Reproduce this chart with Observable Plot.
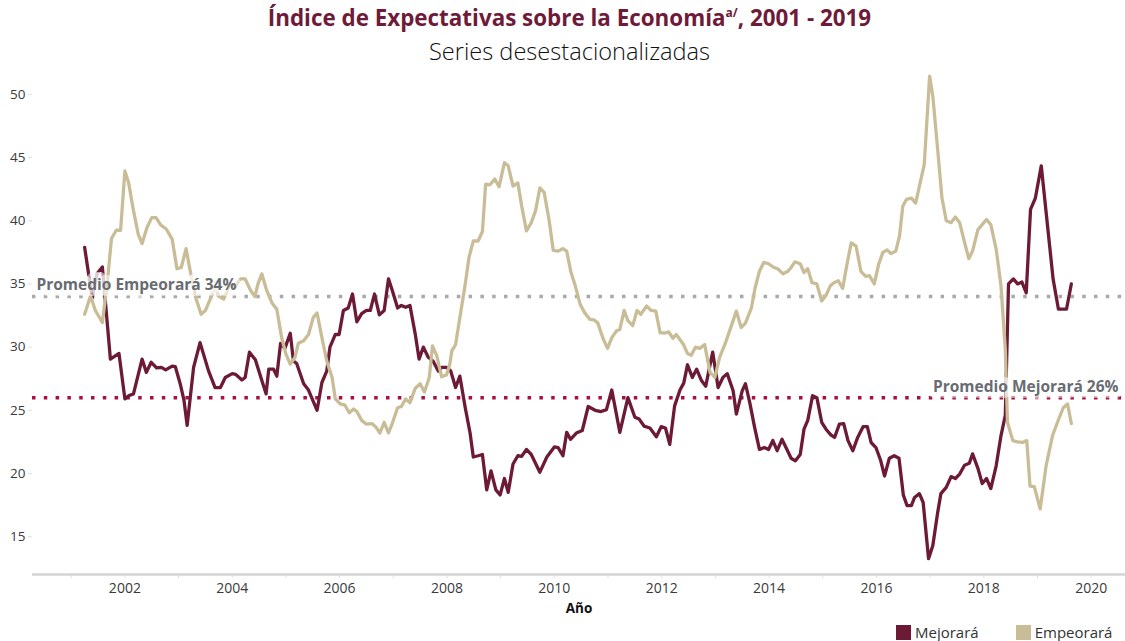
<!DOCTYPE html>
<html>
<head>
<meta charset="utf-8">
<script src="https://cdn.jsdelivr.net/npm/d3@7"></script>
<script src="https://cdn.jsdelivr.net/npm/@observablehq/plot@0.6"></script>
<style>
  body { margin:0; width:1125px; height:641px; overflow:hidden; background:#fff; font-family:"Open Sans", sans-serif; position:relative; }
  #header { position:relative; height:70px; }
  #title { position:absolute; top:4px; left:14px; right:0; text-align:center; font-size:22.4px; font-weight:700; color:#6e1b3a; line-height:28px; }
  #title sup { font-size:12px; vertical-align:9px; line-height:0; }
  #subtitle { position:absolute; top:36px; left:14px; right:0; text-align:center; font-size:23.6px; font-weight:300; color:#111; line-height:30px; }
  #legend { position:absolute; top:622px; left:896px; display:flex; align-items:center; font-size:15px; color:#333; }
  .sw { width:15px; height:15px; display:inline-block; margin-right:4px; }
  .item { display:flex; align-items:center; margin-right:37px; }
  #chart svg { display:block; }
</style>
</head>
<body>
<div id="header">
  <div id="title">Índice de Expectativas sobre la Economía<sup>a/</sup>, 2001 - 2019</div>
  <div id="subtitle">Series desestacionalizadas</div>
</div>
<div id="chart"></div>
<div id="legend"></div>
<script>
// ---- data (decimal year, percent) ----
const mejYear = [2001.25,2001.39,2001.48,2001.58,2001.73,2001.89,2002.00,2002.07,2002.16,2002.32,2002.40,2002.49,2002.59,2002.68,2002.76,2002.88,2002.94,2003.03,2003.10,2003.16,2003.28,2003.40,2003.56,2003.68,2003.78,2003.87,2004.00,2004.06,2004.18,2004.24,2004.32,2004.43,2004.57,2004.63,2004.68,2004.77,2004.83,2004.90,2004.98,2005.08,2005.14,2005.20,2005.33,2005.42,2005.58,2005.67,2005.76,2005.82,2005.92,2005.99,2006.07,2006.16,2006.24,2006.32,2006.41,2006.50,2006.57,2006.65,2006.74,2006.83,2006.91,2006.98,2007.08,2007.15,2007.23,2007.31,2007.41,2007.48,2007.56,2007.65,2007.74,2007.84,2007.90,2007.99,2008.07,2008.16,2008.24,2008.34,2008.43,2008.49,2008.58,2008.66,2008.74,2008.82,2008.91,2008.99,2009.07,2009.14,2009.23,2009.32,2009.39,2009.48,2009.57,2009.73,2009.86,2010.00,2010.07,2010.16,2010.23,2010.30,2010.41,2010.52,2010.63,2010.76,2010.87,2010.97,2011.07,2011.22,2011.37,2011.50,2011.58,2011.67,2011.78,2011.90,2011.99,2012.07,2012.15,2012.24,2012.34,2012.41,2012.48,2012.57,2012.65,2012.74,2012.82,2012.89,2012.95,2013.05,2013.14,2013.22,2013.33,2013.39,2013.50,2013.56,2013.64,2013.73,2013.82,2013.91,2013.99,2014.07,2014.15,2014.24,2014.31,2014.41,2014.49,2014.58,2014.65,2014.72,2014.81,2014.89,2014.98,2015.06,2015.15,2015.22,2015.31,2015.39,2015.47,2015.56,2015.65,2015.75,2015.83,2015.90,2015.99,2016.08,2016.15,2016.24,2016.33,2016.42,2016.50,2016.57,2016.65,2016.71,2016.80,2016.87,2016.97,2017.05,2017.14,2017.20,2017.30,2017.39,2017.47,2017.55,2017.64,2017.73,2017.79,2017.89,2017.97,2018.05,2018.13,2018.23,2018.32,2018.40,2018.46,2018.55,2018.63,2018.71,2018.79,2018.87,2018.96,2019.07,2019.29,2019.39,2019.54,2019.63];
const mejValue = [37.9,33.9,35.8,36.35,29.05,29.5,25.9,26.15,26.3,29.05,28.0,28.8,28.35,28.4,28.2,28.5,28.45,27.1,25.8,23.8,28.4,30.35,28.1,26.8,26.8,27.6,27.9,27.85,27.4,27.6,29.6,29.0,27.1,26.3,28.25,28.25,27.7,30.3,29.9,31.1,28.9,28.7,27.1,26.6,25.0,27.2,28.1,30.0,31.0,31.0,32.9,33.1,34.2,32.0,32.65,32.9,32.9,34.2,32.55,32.9,35.4,34.5,33.1,33.3,33.15,33.3,31.0,29.05,30.0,29.2,28.9,28.1,28.4,28.4,28.1,26.8,27.7,25.2,23.2,21.3,21.4,21.5,18.7,20.2,18.7,18.3,19.6,18.5,20.75,21.4,21.35,21.9,21.5,20.1,21.3,22.1,22.05,21.4,23.25,22.7,23.2,23.4,25.3,25.0,24.9,25.05,26.6,23.25,26.0,24.45,24.3,23.75,23.6,22.9,23.7,23.6,22.3,25.35,26.6,27.15,28.6,27.6,28.25,27.35,26.9,28.4,29.6,26.8,27.6,27.9,26.55,24.7,26.55,27.1,25.6,23.65,21.9,22.05,21.9,22.6,21.8,22.7,22.1,21.2,21.0,21.5,23.5,24.2,26.15,26.0,24.05,23.5,23.05,22.85,23.9,23.95,22.6,21.8,22.85,23.7,23.7,22.45,22.05,21.0,19.8,21.2,21.4,21.2,18.3,17.45,17.45,18.1,18.4,17.7,13.25,14.3,16.9,18.4,18.9,19.75,19.6,19.95,20.65,20.8,21.55,20.4,19.2,19.6,18.8,20.6,23.0,24.6,35.0,35.4,35.0,35.15,34.3,40.9,41.8,44.35,35.4,33.0,33.0,35.0];

const empYear = [2001.25,2001.36,2001.45,2001.58,2001.67,2001.75,2001.84,2001.92,2002.00,2002.07,2002.16,2002.25,2002.32,2002.41,2002.50,2002.58,2002.67,2002.77,2002.88,2002.97,2003.05,2003.14,2003.20,2003.32,2003.42,2003.50,2003.60,2003.68,2003.74,2003.84,2003.95,2004.05,2004.15,2004.24,2004.34,2004.42,2004.48,2004.55,2004.64,2004.74,2004.83,2004.92,2005.00,2005.08,2005.17,2005.23,2005.33,2005.42,2005.51,2005.58,2005.67,2005.76,2005.86,2005.92,2006.01,2006.10,2006.18,2006.26,2006.32,2006.41,2006.50,2006.60,2006.67,2006.75,2006.83,2006.91,2006.98,2007.08,2007.15,2007.23,2007.31,2007.41,2007.50,2007.58,2007.67,2007.73,2007.81,2007.90,2007.99,2008.05,2008.09,2008.16,2008.24,2008.34,2008.41,2008.49,2008.58,2008.66,2008.72,2008.80,2008.89,2008.97,2009.07,2009.14,2009.23,2009.32,2009.39,2009.48,2009.57,2009.65,2009.73,2009.81,2009.90,2009.98,2010.07,2010.16,2010.23,2010.31,2010.39,2010.48,2010.56,2010.66,2010.74,2010.81,2010.91,2010.99,2011.07,2011.16,2011.22,2011.30,2011.37,2011.46,2011.54,2011.61,2011.72,2011.80,2011.89,2011.97,2012.05,2012.13,2012.21,2012.27,2012.40,2012.48,2012.55,2012.63,2012.71,2012.80,2012.90,2012.99,2013.08,2013.18,2013.29,2013.39,2013.48,2013.56,2013.67,2013.74,2013.82,2013.90,2013.99,2014.09,2014.16,2014.26,2014.35,2014.41,2014.48,2014.58,2014.65,2014.72,2014.80,2014.89,2014.98,2015.06,2015.14,2015.21,2015.29,2015.37,2015.45,2015.53,2015.62,2015.71,2015.80,2015.87,2015.96,2016.04,2016.12,2016.20,2016.27,2016.36,2016.43,2016.49,2016.56,2016.65,2016.73,2016.80,2016.89,2016.99,2017.05,2017.14,2017.22,2017.30,2017.39,2017.47,2017.55,2017.64,2017.72,2017.79,2017.89,2017.97,2018.05,2018.13,2018.23,2018.32,2018.40,2018.44,2018.54,2018.63,2018.72,2018.80,2018.86,2018.94,2019.05,2019.16,2019.28,2019.39,2019.48,2019.56,2019.63];
const empValue = [32.6,34.05,32.9,31.95,35.0,38.6,39.25,39.25,43.95,43.0,40.8,38.9,38.2,39.45,40.25,40.25,39.65,39.35,38.55,36.2,36.3,37.8,36.4,33.9,32.6,32.9,33.9,34.75,34.05,33.8,35.0,34.75,35.4,35.4,34.5,34.0,35.0,35.8,34.5,33.5,33.0,30.75,29.45,28.65,29.2,30.3,30.5,31.0,32.35,32.7,30.75,28.9,27.6,25.9,25.5,25.4,24.8,25.1,24.9,24.2,23.9,23.95,23.7,23.2,24.05,23.2,23.95,25.2,25.3,25.9,25.6,26.75,27.1,26.45,27.6,30.1,29.3,27.65,27.8,28.6,29.7,30.2,32.35,35.0,37.1,38.4,38.4,39.15,42.9,42.85,43.3,42.7,44.6,44.35,42.75,43.0,41.2,39.2,39.85,40.8,42.6,42.25,40.1,37.65,37.6,37.8,37.6,35.9,34.85,33.4,32.75,32.2,32.15,31.9,30.65,29.9,30.75,31.3,31.4,32.9,32.1,31.7,32.9,32.6,33.25,32.9,32.85,31.15,31.1,31.2,30.7,31.0,30.25,29.5,29.35,30.0,29.9,30.2,28.0,27.6,29.2,30.25,31.6,32.85,31.55,31.9,33.1,34.7,36.0,36.7,36.6,36.3,36.2,35.8,36.0,36.3,36.75,36.6,35.9,36.2,35.1,35.0,33.65,34.1,34.85,35.1,35.25,34.65,36.55,38.25,38.0,36.0,35.6,35.65,35.0,36.55,37.5,37.7,37.4,37.6,38.8,41.15,41.7,41.8,41.4,42.75,44.45,51.45,49.85,45.65,41.8,40.0,39.85,40.3,39.85,38.3,37.0,37.6,39.3,39.7,40.1,39.7,37.75,34.85,29.85,24.05,22.6,22.5,22.45,22.6,19.0,18.95,17.2,20.6,23.0,24.25,25.2,25.5,23.95];

const seriesNames = ["Mejorará", "Empeorará"];
const seriesColors = ["#6d1a36", "#c9bd98"];
const avgMej = 26, avgEmp = 34;
const avgLabels = ["Promedio Mejorará 26%", "Promedio Empeorará 34%"];
const yTicks = [15, 20, 25, 30, 35, 40, 45, 50];
const xTicks = d3.range(2001, 2021);
const xLabel = "Año";

const mej = mejYear.map((x, i) => ({x, y: mejValue[i]}));
const emp = empYear.map((x, i) => ({x, y: empValue[i]}));

const chart = Plot.plot({
  width: 1125,
  height: 554,
  marginLeft: 32,
  marginRight: 0,
  marginTop: 5,
  marginBottom: 50,
  style: {fontFamily: "'Open Sans', sans-serif", fontSize: "13.5px", color: "#3a3a3a", background: "white"},
  x: {domain: [2000.279, 2020.639], label: null},
  y: {domain: [12, 51.5], label: null},
  marks: [
    Plot.ruleY([avgMej], {stroke: "#a8113f", strokeWidth: 3.5, strokeDasharray: "3.5,8.3"}),
    Plot.ruleY([avgEmp], {stroke: "#a9a9a9", strokeWidth: 3.5, strokeDasharray: "3.5,8.3"}),
    Plot.axisX({ticks: xTicks, tickSize: 4, tickPadding: 5, stroke: "#e0e0e0", fontSize: 14,
      tickFormat: d => d % 2 === 0 ? String(d) : ""}),
    Plot.axisY({ticks: yTicks, tickSize: 4, tickPadding: 3, stroke: "#e0e0e0", fontSize: 13.5}),
    Plot.ruleY([12], {stroke: "#d4d4d4", strokeWidth: 2.5}),
    Plot.line(mej, {x: "x", y: "y", stroke: seriesColors[0], strokeWidth: 3.3, strokeLinejoin: "round"}),
    Plot.line(emp, {x: "x", y: "y", stroke: seriesColors[1], strokeWidth: 3.3, strokeLinejoin: "round"}),
    Plot.text([avgEmp], {y: d => d, text: () => avgLabels[1], frameAnchor: "left", textAnchor: "start", dx: 4, dy: -12,
      fill: "#686c72", fontWeight: 700, fontSize: 15.5, stroke: "white", strokeWidth: 12, strokeOpacity: 0.55, strokeLinejoin: "round"}),
    Plot.text([avgMej], {y: d => d, text: () => avgLabels[0], frameAnchor: "right", textAnchor: "end", dx: -7, dy: -11,
      fill: "#686c72", fontWeight: 700, fontSize: 15.5, stroke: "white", strokeWidth: 12, strokeOpacity: 0.55, strokeLinejoin: "round"}),
    Plot.text([xLabel], {text: d => d, frameAnchor: "bottom", dy: 38, fontWeight: 700, fontSize: 13.5, fill: "#111"})
  ]
});
document.getElementById("chart").appendChild(chart);

const legend = document.getElementById("legend");
seriesNames.forEach((name, i) => {
  const item = document.createElement("div");
  item.className = "item";
  const sw = document.createElement("span");
  sw.className = "sw";
  sw.style.background = seriesColors[i];
  item.appendChild(sw);
  item.appendChild(document.createTextNode(name));
  legend.appendChild(item);
});
</script>
</body>
</html>
